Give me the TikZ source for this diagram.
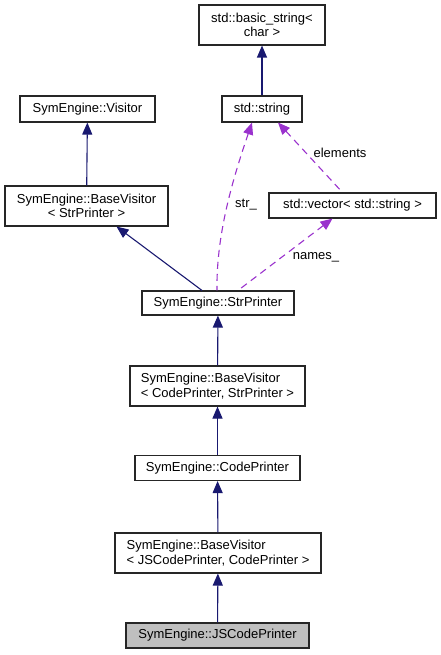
\documentclass[tikz,border=0pt]{standalone}
\usepackage{fontspec}
\setmainfont{Liberation Sans}
\usetikzlibrary{arrows.meta}
\definecolor{edgeblue}{HTML}{191970}
\definecolor{usepurple}{HTML}{9A32CD}
\begin{document}
\begin{tikzpicture}[x=1pt, y=-1pt, font=\fontsize{13}{14.5}\selectfont,
  cls/.style={draw=black!85, line width=1.1pt, inner sep=0pt, minimum height=26pt},
  two/.style={cls, minimum height=40pt},
  inh/.style={draw=edgeblue, line width=1.1pt, {Triangle[length=12pt,width=10pt]}-},
  usg/.style={draw=usepurple, line width=1.1pt, dashed, dash pattern=on 7pt off 5pt,
    {Triangle[length=12pt,width=10pt]}-},
  lbl/.style={inner sep=0pt}]
  \useasboundingbox (0,0) rectangle (441,655);
  % classes
  \node[two, minimum width=126pt, align=center] (bstr) at (262,25) {std::basic\_string<\\char >};
  \node[cls, minimum width=80pt] (str) at (262,109) {std::string};
  \node[cls, minimum width=135pt] (vis) at (87.5,109) {SymEngine::Visitor};
  \node[two, minimum width=163pt, align=center] (bvs) at (86.5,206) {SymEngine::BaseVisitor\\< StrPrinter >};
  \node[cls, minimum width=167pt, minimum height=25pt] (vec) at (352.5,205.5) {std::vector< std::string >};
  \node[cls, minimum width=152pt, minimum height=24pt] (sp) at (218,303) {SymEngine::StrPrinter};
  \node[two, minimum width=175pt, align=left] (bvcs) at (217.5,386) {SymEngine::BaseVisitor\\< CodePrinter, StrPrinter >};
  \node[cls, minimum width=165pt, minimum height=25pt] (cp) at (217.5,468) {SymEngine::CodePrinter};
  \node[two, minimum width=206pt, align=left] (bvjc) at (218,553) {SymEngine::BaseVisitor\\< JSCodePrinter, CodePrinter >};
  \node[cls, minimum width=183pt, minimum height=25pt, fill=black!25] (jscp) at (217.5,635.5) {SymEngine::JSCodePrinter};
  % inheritance
  \draw[inh] (bstr) -- (str);
  \draw[inh] (vis) -- (bvs);
  \draw[inh] ([xshift=30pt]bvs.south) -- ([xshift=-16pt]sp.north);
  \draw[inh] (sp) -- (bvcs);
  \draw[inh] (bvcs) -- (cp);
  \draw[inh] (cp) -- (bvjc);
  \draw[inh] (bvjc) -- (jscp);
  % members
  \draw[usg] ([xshift=-10pt]str.south) .. controls (236,170) and (216,230) .. ([xshift=-1pt]sp.north);
  \draw[usg] ([xshift=16pt]str.south) -- ([xshift=-10pt]vec.north);
  \draw[usg] ([xshift=-20pt]vec.south) -- ([xshift=20pt]sp.north);
  \node[lbl] (lstr) at (246,205) {str\_};
  \node[lbl] (lel) at (340,153) {elements};
  \node[lbl] (lnam) at (316,257) {names\_};
\end{tikzpicture}
\end{document}
